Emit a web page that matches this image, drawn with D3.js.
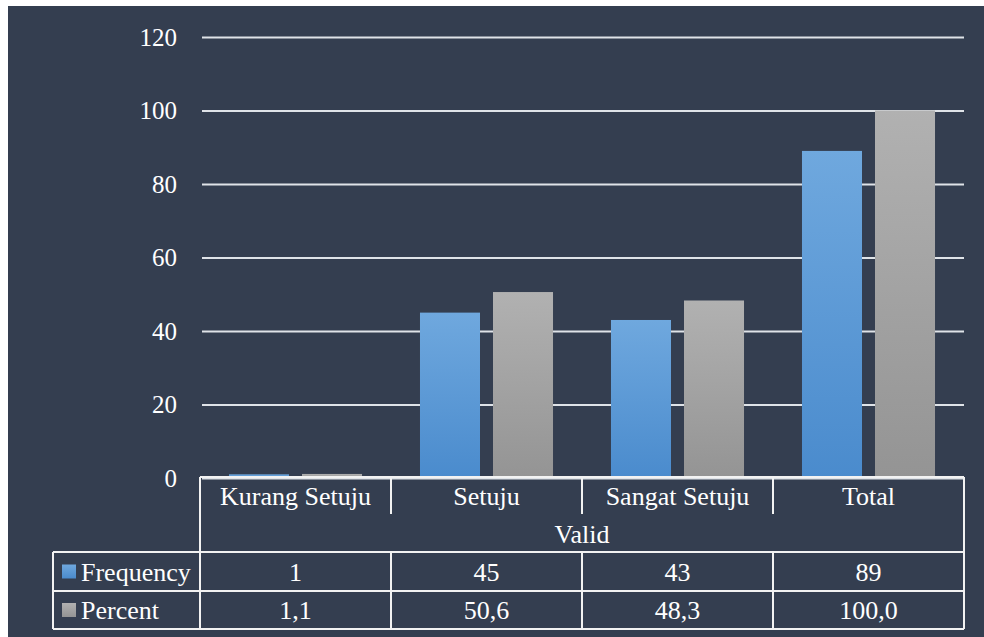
<!DOCTYPE html>
<html>
<head>
<meta charset="utf-8">
<script src="https://cdn.jsdelivr.net/npm/d3@7"></script>
<style>
  html, body { margin: 0; padding: 0; background: #ffffff; }
  svg { display: block; }
  text { font-family: "Liberation Serif", "Times New Roman", serif; fill: #ffffff; }
</style>
</head>
<body>
<svg id="chart" width="984" height="637"></svg>
<script>
// Survey responses (Valid group)
const categories = ["Kurang Setuju", "Setuju", "Sangat Setuju", "Total"];
const groupLabel = "Valid";
const seriesNames = ["Frequency", "Percent"];
const frequency = [1, 45, 43, 89];
const percent = [1.1, 50.6, 48.3, 100.0];
const frequencyText = ["1", "45", "43", "89"];
const percentText = ["1,1", "50,6", "48,3", "100,0"];
const yTicks = [0, 20, 40, 60, 80, 100, 120];

const seriesValues = [frequency, percent];
const seriesText = [frequencyText, percentText];

const svg = d3.select("#chart");
const W = 984, H = 637;

// panel background
svg.append("rect").attr("x", 8).attr("y", 6).attr("width", W - 8).attr("height", H - 6)
  .attr("fill", "#343e50");

const defs = svg.append("defs");
const gradStops = [
  ["gradFreq", "#6fa8de", "#4a8bcd"],
  ["gradPct", "#b1b1b1", "#949494"]
];
gradStops.forEach(([id, top, bottom]) => {
  const g = defs.append("linearGradient").attr("id", id)
    .attr("x1", 0).attr("y1", 0).attr("x2", 0).attr("y2", 1);
  g.append("stop").attr("offset", "0%").attr("stop-color", top);
  g.append("stop").attr("offset", "100%").attr("stop-color", bottom);
});
const fills = ["url(#gradFreq)", "url(#gradPct)"];

const plotLeft = 200, plotRight = 964, plotTop = 37, plotBottom = 478;

const x = d3.scaleBand().domain(categories).range([plotLeft, plotRight]).padding(0);
const xs = d3.scaleBand().domain(seriesNames).range([0, x.bandwidth()])
  .paddingInner(0.178).paddingOuter(0.397);
const y = d3.scaleLinear().domain([0, 120]).range([plotBottom, plotTop]);

// gridlines + tick labels
const yAxis = d3.axisLeft(y).tickValues(yTicks).tickFormat(d3.format("d"))
  .tickSize(-(plotRight - 202)).tickPadding(25);
const ga = svg.append("g").attr("transform", "translate(202,0)").call(yAxis);
ga.select(".domain").remove();
ga.selectAll(".tick line").attr("stroke", "#dfe3e8").attr("stroke-width", 2);
ga.selectAll(".tick text").attr("fill", "#ffffff")
  .style("font-family", '"Liberation Serif", "Times New Roman", serif')
  .style("font-size", "25px");

// bars
const groups = svg.append("g").selectAll("g").data(categories).join("g")
  .attr("transform", d => `translate(${x(d)},0)`);
groups.selectAll("rect")
  .data((c, i) => seriesNames.map((s, j) => ({ s, j, v: seriesValues[j][i] })))
  .join("rect")
  .attr("x", d => xs(d.s))
  .attr("width", xs.bandwidth())
  .attr("y", d => y(d.v))
  .attr("height", d => y(0) - y(d.v))
  .attr("fill", d => fills[d.j]);

// data table
const rowTop = 477, rowCat = 514, rowGroup = 552, rowFreq = 591, rowEnd = 629;
const legendLeft = 53;
const tbl = svg.append("g").attr("stroke", "#f2f2f2").attr("stroke-width", 2).attr("fill", "none");
const line = (x1, y1, x2, y2) => tbl.append("line")
  .attr("x1", x1).attr("y1", y1).attr("x2", x2).attr("y2", y2);

line(plotLeft, rowTop, plotRight, rowTop);
line(plotLeft, rowTop, plotLeft, rowEnd);
line(plotRight, rowTop, plotRight, rowEnd);
categories.slice(1).forEach(c => line(x(c), rowTop, x(c), rowCat));
categories.slice(1).forEach(c => line(x(c), rowGroup, x(c), rowEnd));
line(legendLeft, rowGroup, plotRight, rowGroup);
line(legendLeft, rowFreq, plotRight, rowFreq);
line(legendLeft, rowEnd, plotRight, rowEnd);
line(legendLeft, rowGroup, legendLeft, rowEnd);

const txt = svg.append("g").style("font-size", "26px");
categories.forEach(c => {
  txt.append("text").attr("x", x(c) + x.bandwidth() / 2).attr("y", (rowTop + rowCat) / 2)
    .attr("text-anchor", "middle").attr("dy", "0.35em").text(c);
});
txt.append("text").attr("x", (plotLeft + plotRight) / 2).attr("y", (rowCat + rowGroup) / 2 + 1)
  .attr("text-anchor", "middle").attr("dy", "0.35em").text(groupLabel);

const rowCenters = [(rowGroup + rowFreq) / 2, (rowFreq + rowEnd) / 2];
seriesNames.forEach((s, j) => {
  const cy = rowCenters[j];
  svg.append("rect").attr("x", 62).attr("y", cy - 7).attr("width", 14).attr("height", 14)
    .attr("fill", fills[j]);
  txt.append("text").attr("x", 81).attr("y", cy).attr("dy", "0.35em").text(s);
  categories.forEach((c, i) => {
    txt.append("text").attr("x", x(c) + x.bandwidth() / 2).attr("y", cy)
      .attr("text-anchor", "middle").attr("dy", "0.35em").text(seriesText[j][i]);
  });
});
</script>
</body>
</html>
